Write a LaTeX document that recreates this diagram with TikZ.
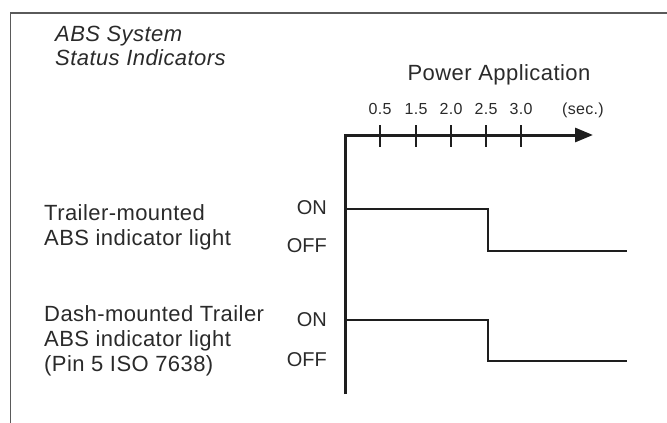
\documentclass[tikz,border=0pt]{standalone}
\usepackage{fontspec}
\setmainfont{Liberation Sans}
\usetikzlibrary{arrows.meta}
\definecolor{ink}{HTML}{2A2A2A}
\definecolor{lineink}{HTML}{1E1E1E}
\definecolor{framec}{HTML}{5A5A5A}
\begin{document}
\begin{tikzpicture}[x=1pt,y=-1pt,
  lbl/.style={inner sep=0pt, text=ink, anchor=base west,
    font=\fontsize{22}{25}\selectfont\addfontfeatures{LetterSpace=2}},
  ttl/.style={lbl, font=\fontsize{22}{25}\selectfont\itshape\addfontfeatures{LetterSpace=2}},
  state/.style={inner sep=0pt, text=ink, anchor=base east,
    font=\fontsize{20}{24}\selectfont},
  ticklbl/.style={inner sep=0pt, text=ink, anchor=base,
    font=\fontsize{16}{19}\selectfont\addfontfeatures{LetterSpace=2}},
  axisline/.style={draw=lineink, line width=3pt, line join=miter},
  sigline/.style={draw=lineink, line width=2.8pt, line join=miter},
  tickline/.style={draw=lineink, line width=1.6pt},
  framel/.style={draw=framec, line width=1.4pt}]
\useasboundingbox (0,0) rectangle (667,423);
% frame
\coordinate (fb) at (10.5,423);
\coordinate (fc) at (10.5,13);
\coordinate (fr) at (667,13);
\draw[framel] (fb) -- (fc) -- (fr);
% titles
\node[ttl] (t1) at (55,41) {ABS System};
\node[ttl] (t2) at (55,65.5) {Status Indicators};
\node[lbl, anchor=base] (pa) at (499,80) {Power Application};
% axes
\coordinate (o) at (345.5,135);
\coordinate (ybot) at (345.5,394);
\coordinate (xend) at (593,135);
\draw[axisline, -{Triangle[length=18pt,width=14pt]}] (ybot) -- (o) -- (xend);
% ticks
\foreach \x/\t/\n in {380/0.5/a,416/1.5/b,451/2.0/c,486/2.5/d,521/3.0/e}{
  \coordinate (tt\n) at (\x,125);
  \coordinate (tb\n) at (\x,147);
  \draw[tickline] (tt\n) -- (tb\n);
  \node[ticklbl] (tl\n) at (\x,114) {\t};
}
\node[ticklbl] (sec) at (583,114) {(sec.)};
% signal 1
\coordinate (s1a) at (345.5,209);
\coordinate (s1b) at (488,209);
\coordinate (s1c) at (488,251);
\coordinate (s1d) at (627,251);
\draw[sigline] (s1a) -- (s1b) -- (s1c) -- (s1d);
% signal 2
\coordinate (s2a) at (345.5,320);
\coordinate (s2b) at (488,320);
\coordinate (s2c) at (488,361);
\coordinate (s2d) at (627,361);
\draw[sigline] (s2a) -- (s2b) -- (s2c) -- (s2d);
% state labels
\node[state] (on1) at (327,214) {ON};
\node[state] (off1) at (327,252.5) {OFF};
\node[state] (on2) at (327,326.5) {ON};
\node[state] (off2) at (327,366) {OFF};
% row labels
\node[lbl] (r1a) at (44,220) {Trailer-mounted};
\node[lbl] (r1b) at (44,245) {ABS indicator light};
\node[lbl] (r2a) at (44,321) {Dash-mounted Trailer};
\node[lbl] (r2b) at (44,346) {ABS indicator light};
\node[lbl] (r2c) at (44,371) {(Pin 5 ISO 7638)};
\end{tikzpicture}
\end{document}
